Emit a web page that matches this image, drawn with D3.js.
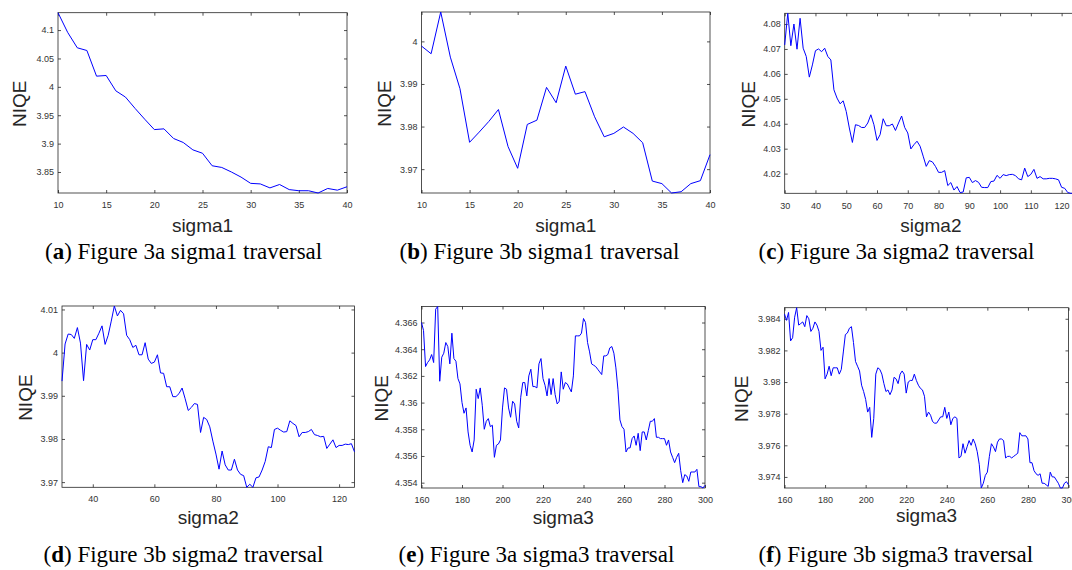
<!DOCTYPE html>
<html>
<head>
<meta charset="utf-8">
<style>
  body { margin: 0; background: #fff; }
  svg { display: block; }
  .tick line { stroke: #262626; stroke-width: 0.8; }
  .tick text { font-family: "Liberation Sans", Arial, sans-serif; font-size: 9px; fill: #333; }
  .domain { display: none; }
  .frame { fill: none; stroke: #262626; stroke-width: 0.8; }
  .axis-label { font-family: "Liberation Sans", Arial, sans-serif; font-size: 19px; fill: #262626; }
  .caption { font-family: "Liberation Serif", "Times New Roman", serif; font-size: 23px; fill: #000; }
</style>
</head>
<body>
<svg width="1072" height="570"></svg>
<script src="https://d3js.org/d3.v7.min.js"></script>
<script>
// NIQE values, one per integer sigma step
const niqe3aSigma1 = [4.1306, 4.096, 4.0688, 4.064, 4.0188, 4.020, 3.993, 3.982, 3.962, 3.943,
  3.9247, 3.926, 3.909, 3.902, 3.889, 3.883, 3.861, 3.858, 3.850, 3.841,
  3.830, 3.829, 3.822, 3.828, 3.819, 3.817, 3.817, 3.813, 3.821, 3.818, 3.824];

const niqe3bSigma1 = [3.9989, 3.9971, 4.0069, 3.9963, 3.9889, 3.9763, 3.9787, 3.9812, 3.984, 3.9753,
  3.9702, 3.9805, 3.9815, 3.9892, 3.9856, 3.9942, 3.9876, 3.9882, 3.9823, 3.9776,
  3.9784, 3.9799, 3.9784, 3.9762, 3.9672, 3.9666, 3.9644, 3.9647, 3.9666, 3.9673, 3.9734];

const niqe3aSigma2 = [4.0716, 4.0843, 4.0713, 4.0800, 4.0699, 4.0823, 4.0703, 4.0670, 4.0587, 4.0636,
  4.0693, 4.0700, 4.0689, 4.0703, 4.0670, 4.0656, 4.0536, 4.0503, 4.0480, 4.0492,
  4.0449, 4.0383, 4.0325, 4.0396, 4.0393, 4.0385, 4.0385, 4.0403, 4.0436, 4.0396,
  4.0333, 4.0356, 4.0420, 4.0392, 4.0392, 4.0399, 4.0373, 4.0403, 4.0431, 4.0385,
  4.0363, 4.0299, 4.0316, 4.0330, 4.0310, 4.0270, 4.0229, 4.0252, 4.0247, 4.0229,
  4.0205, 4.0205, 4.0212, 4.0152, 4.0164, 4.0134, 4.0148, 4.0124, 4.0126, 4.0183,
  4.0185, 4.0164, 4.0172, 4.0165, 4.0145, 4.0144, 4.0144, 4.0168, 4.0170, 4.0193,
  4.0181, 4.0196, 4.0192, 4.0196, 4.0197, 4.0192, 4.0179, 4.0175, 4.0222, 4.0188,
  4.0197, 4.0217, 4.0181, 4.0188, 4.0179, 4.0179, 4.0181, 4.0181, 4.0179, 4.0175,
  4.0145, 4.0141, 4.0124, 4.0121, 4.0121, 4.0121];

const niqe3bSigma2 = [3.9934, 4.0020, 4.0043, 4.0042, 4.0033, 4.0058, 4.0022, 3.9935, 4.0019, 4.0006,
  4.0030, 4.0030, 4.0045, 4.0062, 4.0019, 4.0040, 4.0073, 4.0108, 4.0085, 4.0098,
  4.0090, 4.0040, 4.0030, 4.0012, 4.0017, 3.9995, 3.9995, 4.0023, 3.9985, 3.9975,
  3.9978, 3.9995, 3.9953, 3.9952, 3.9921, 3.9921, 3.9898, 3.9898, 3.9905, 3.9918,
  3.9893, 3.9866, 3.9873, 3.9882, 3.9880, 3.9815, 3.9850, 3.9845, 3.9828, 3.9795,
  3.9765, 3.9730, 3.9772, 3.9740, 3.9728, 3.9728, 3.9753, 3.9728, 3.9718, 3.9715,
  3.9688, 3.9695, 3.9688, 3.9710, 3.9712, 3.9728, 3.9748, 3.9782, 3.9780, 3.9822,
  3.9825, 3.9820, 3.9816, 3.9817, 3.9842, 3.9836, 3.9831, 3.9805, 3.9815, 3.9815,
  3.9817, 3.9822, 3.9810, 3.9808, 3.9805, 3.9806, 3.9778, 3.9788, 3.9798, 3.9780,
  3.9785, 3.9785, 3.9788, 3.9787, 3.9789, 3.9770];

const niqe3aSigma3 = [4.3660, 4.3654, 4.3627, 4.3630, 4.3632, 4.3636, 4.3630, 4.3670, 4.3672, 4.3616,
  4.3634, 4.3637, 4.3645, 4.3642, 4.3629, 4.3652, 4.3633, 4.3631, 4.3618, 4.3614,
  4.3600, 4.3592, 4.3596, 4.3578, 4.3568, 4.3563, 4.3572, 4.3610, 4.3603, 4.3611,
  4.3598, 4.3580, 4.3586, 4.3588, 4.3582, 4.3583, 4.3559, 4.3568, 4.3569, 4.3572,
  4.3596, 4.3611, 4.3610, 4.3596, 4.3589, 4.3601, 4.3599, 4.3586, 4.3581, 4.3604,
  4.3615, 4.3615, 4.3605, 4.3620, 4.3625, 4.3612, 4.3612, 4.3611, 4.3629, 4.3633,
  4.3618, 4.3613, 4.3605, 4.3618, 4.3606, 4.3618, 4.3606, 4.3599, 4.3601, 4.3623,
  4.3610, 4.3615, 4.3614, 4.3611, 4.3608, 4.3620, 4.3650, 4.3650, 4.3650, 4.3652,
  4.3663, 4.3660, 4.3645, 4.3638, 4.3629, 4.3628, 4.3627, 4.3625, 4.3623, 4.3621,
  4.3635, 4.3635, 4.3636, 4.3641, 4.3642, 4.3637, 4.3626, 4.3610, 4.3587, 4.3582,
  4.3580, 4.3563, 4.3566, 4.3566, 4.3573, 4.3575, 4.3568, 4.3577, 4.3564, 4.3578,
  4.3578, 4.3572, 4.3579, 4.3586, 4.3586, 4.3588, 4.3574, 4.3574, 4.3573, 4.3573,
  4.3573, 4.3568, 4.3572, 4.3563, 4.3559, 4.3555, 4.3559, 4.3562, 4.3549, 4.3540,
  4.3546, 4.3545, 4.3541, 4.3548, 4.3548, 4.3548, 4.3550, 4.3537, 4.3537, 4.3536,
  4.3538];

const niqe3bSigma3 = [3.9843, 3.9839, 3.9844, 3.9826, 3.9828, 3.9841, 3.9847, 3.9836, 3.9837, 3.9838,
  3.9835, 3.9842, 3.9840, 3.9832, 3.9834, 3.9838, 3.9836, 3.9832, 3.9820, 3.9822,
  3.9802, 3.9805, 3.9810, 3.9804, 3.9809, 3.9809, 3.9809, 3.9805, 3.9808, 3.9819,
  3.9830, 3.9831, 3.9834, 3.9835, 3.9825, 3.9813, 3.9810, 3.9807, 3.9798, 3.9794,
  3.9789, 3.9781, 3.9784, 3.9765, 3.9777, 3.9805, 3.9809, 3.9808, 3.9805, 3.9799,
  3.9794, 3.9795, 3.9792, 3.9795, 3.9803, 3.9802, 3.9799, 3.9805, 3.9807, 3.9805,
  3.9793, 3.9800, 3.9801, 3.9801, 3.9805, 3.9801, 3.9798, 3.9796, 3.9795, 3.9791,
  3.9778, 3.9781, 3.9779, 3.9775, 3.9774, 3.9774, 3.9776, 3.9778, 3.9778, 3.9784,
  3.9777, 3.9781, 3.9773, 3.9777, 3.9778, 3.9777, 3.9752, 3.9753, 3.9761, 3.9755,
  3.9759, 3.9763, 3.9760, 3.9764, 3.9761, 3.9756, 3.9748, 3.9733, 3.9736, 3.9741,
  3.9743, 3.9753, 3.9761, 3.9759, 3.9756, 3.9762, 3.9764, 3.9764, 3.9763, 3.9752,
  3.9753, 3.9753, 3.9752, 3.9753, 3.9754, 3.9755, 3.9768, 3.9766, 3.9766, 3.9766,
  3.9764, 3.9749, 3.9749, 3.9744, 3.9742, 3.9741, 3.9742, 3.9736, 3.9736, 3.9735,
  3.9734, 3.9743, 3.9740, 3.9740, 3.9738, 3.9736, 3.9733, 3.9733, 3.9736, 3.9737,
  3.9735];

// x axis ranges (sigma start / end) and tick labels
const sigma1Range = [10, 40];
const sigma2Range = [30, 125];
const sigma3Range = [160, 300];

const sigma1Ticks = [10, 15, 20, 25, 30, 35, 40];
const sigma2TicksC = [30, 40, 50, 60, 70, 80, 90, 100, 110, 120];
const sigma2TicksD = [40, 60, 80, 100, 120];
const sigma3Ticks = [160, 180, 200, 220, 240, 260, 280, 300];

const yTicksA = [3.85, 3.9, 3.95, 4, 4.05, 4.1];
const yTicksB = [3.97, 3.98, 3.99, 4];
const yTicksC = [4.02, 4.03, 4.04, 4.05, 4.06, 4.07, 4.08];
const yTicksD = [3.97, 3.98, 3.99, 4, 4.01];
const yTicksE = [4.354, 4.356, 4.358, 4.36, 4.362, 4.364, 4.366];
const yTicksF = [3.974, 3.976, 3.978, 3.98, 3.982, 3.984];

const captions = ["Figure 3a sigma1 traversal", "Figure 3b sigma1 traversal", "Figure 3a sigma2 traversal",
  "Figure 3b sigma2 traversal", "Figure 3a sigma3 traversal", "Figure 3b sigma3 traversal"];
const letters = ["a", "b", "c", "d", "e", "f"];
const xLabels = ["sigma1", "sigma1", "sigma2", "sigma2", "sigma3", "sigma3"];

// panel boxes in page pixels (MATLAB figures placed as subfigures)
const panels = [
  { vals: niqe3aSigma1, xr: sigma1Range, xt: sigma1Ticks, yt: yTicksA, l: 58, r: 347, t: 12.7, b: 193, niqeX: 26, xlabY: 232, capX: 45, capY: 258.5, pad: 9 },
  { vals: niqe3bSigma1, xr: sigma1Range, xt: sigma1Ticks, yt: yTicksB, l: 421.5, r: 710, t: 12, b: 193, niqeX: 391, xlabY: 231.7, capX: 399.5, capY: 258.5, pad: 9 },
  { vals: niqe3aSigma2, xr: sigma2Range, xt: sigma2TicksC, yt: yTicksC, l: 784.7, r: 1077, t: 13.3, b: 193.3, niqeX: 755, xlabY: 231.7, capX: 758.5, capY: 258.5, pad: 9 },
  { vals: niqe3bSigma2, xr: sigma2Range, xt: sigma2TicksD, yt: yTicksD, l: 62, r: 354.5, t: 306, b: 487.3, niqeX: 31.7, xlabY: 524.3, capX: 43.5, capY: 562.3, pad: 8.6 },
  { vals: niqe3aSigma3, xr: sigma3Range, xt: sigma3Ticks, yt: yTicksE, l: 421.5, r: 705, t: 306.5, b: 488, niqeX: 387.7, xlabY: 524.3, capX: 398.5, capY: 562.3, pad: 8.6 },
  { vals: niqe3bSigma3, xr: sigma3Range, xt: sigma3Ticks, yt: yTicksF, l: 784.5, r: 1068.5, t: 307.7, b: 488, niqeX: 748.3, xlabY: 522.3, capX: 758.5, capY: 562.3, pad: 8.6 }
];

const svg = d3.select("svg");
const fmt = d => String(+d.toFixed(4));

panels.forEach((p, i) => {
  const sig = d3.range(p.xr[0], p.xr[1] + 1);
  const data = sig.map((s, k) => ({ s: s, v: p.vals[k] }));

  const x = d3.scaleLinear().domain(p.xr).range([p.l, p.r]);
  const y = d3.scaleLinear().domain(d3.extent(p.vals)).range([p.b, p.t]);

  const g = svg.append("g");

  // ticks point inward on all four sides, labels only bottom/left
  g.append("g")
    .attr("transform", `translate(0,${p.b})`)
    .call(d3.axisBottom(x).tickValues(p.xt).tickSize(-3).tickPadding(p.pad).tickFormat(fmt));
  g.append("g")
    .attr("transform", `translate(0,${p.t})`)
    .call(d3.axisTop(x).tickValues(p.xt).tickSize(-3).tickFormat(""));
  g.append("g")
    .attr("transform", `translate(${p.l},0)`)
    .call(d3.axisLeft(y).tickValues(p.yt).tickSize(-3).tickPadding(4).tickFormat(fmt));
  g.append("g")
    .attr("transform", `translate(${p.r},0)`)
    .call(d3.axisRight(y).tickValues(p.yt).tickSize(-3).tickFormat(""));

  g.append("rect")
    .attr("class", "frame")
    .attr("x", p.l).attr("y", p.t)
    .attr("width", p.r - p.l).attr("height", p.b - p.t);

  const line = d3.line().x(d => x(d.s)).y(d => y(d.v));
  g.append("path")
    .attr("d", line(data))
    .style("fill", "none")
    .style("stroke", "#0000ff")
    .style("stroke-width", 1);

  g.append("text")
    .attr("class", "axis-label")
    .attr("text-anchor", "middle")
    .attr("x", (p.l + p.r) / 2)
    .attr("y", p.xlabY)
    .text(xLabels[i]);

  g.append("text")
    .attr("class", "axis-label")
    .attr("text-anchor", "middle")
    .attr("transform", `translate(${p.niqeX},${(p.t + p.b) / 2 + 1}) rotate(-90)`)
    .text("NIQE");

  const cap = g.append("text")
    .attr("class", "caption")
    .attr("x", p.capX)
    .attr("y", p.capY);
  cap.append("tspan").text("(");
  cap.append("tspan").style("font-weight", "bold").text(letters[i]);
  cap.append("tspan").text(") " + captions[i]);
});
</script>
</body>
</html>
